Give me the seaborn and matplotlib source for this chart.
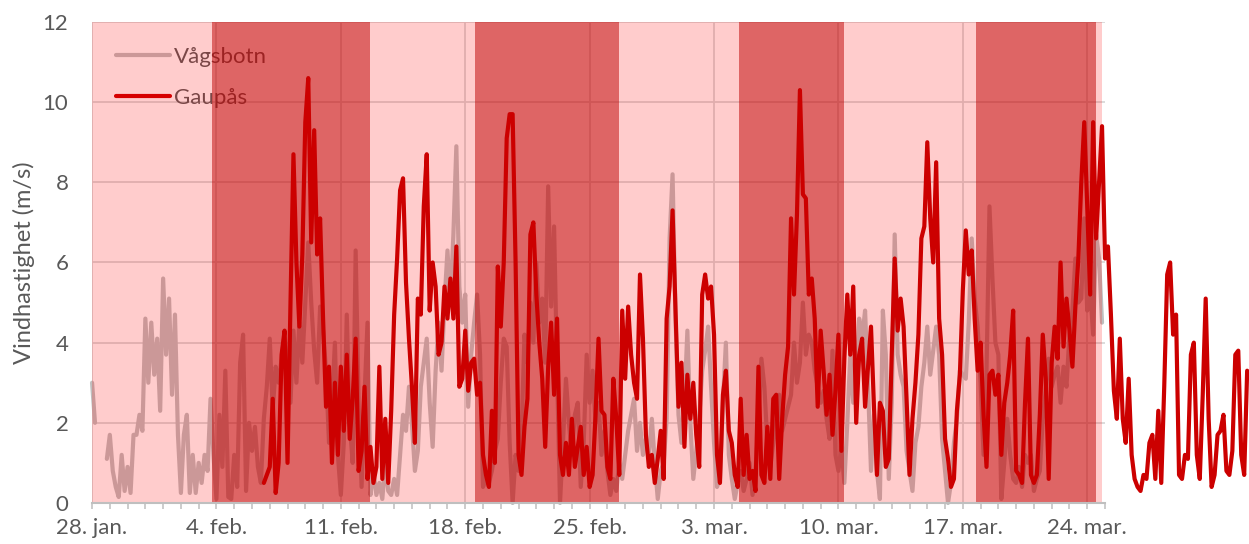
import numpy as np
import pandas as pd
import seaborn as sns
import matplotlib.pyplot as plt
from matplotlib.lines import Line2D

# hourly-ish wind series (4 h steps)
step = "4h"
vagsbotn_start = "2024-01-28 00:00"
gaupas_start = "2024-02-06 16:00"

vagsbotn_ms = [
    3.0, 2.0, np.nan, np.nan, np.nan, 1.1, 1.7, 0.8, 0.4, 0.15, 1.2, 0.3, 0.9, 0.25, 1.7, 1.7, 2.2, 1.8, 4.6, 3.0,
    4.5, 3.2, 4.1, 2.3, 5.6, 3.7, 5.1, 2.7, 4.7, 1.7, 0.25, 1.7, 2.2, 0.25, 1.2, 0.25, 1.0, 0.5, 1.2, 0.8,
    2.6, 1.2, 0.1, 2.2, 0.9, 3.3, 0.15, 0.1, 1.2, 0.4, 3.5, 4.2, 0.3, 2.0, 1.3, 1.9, 0.9, 0.5, 2.1, 2.9,
    4.1, 2.3, 3.4, 3.0, 3.6, 4.2,
    3.4, 2.5, 4.3, 3.0, 4.5, 3.5, 5.0, 6.5, 5.0, 3.8, 3.0, 4.9, 4.3, 3.3, 1.5, 2.5, 4.0, 1.2, 0.2, 1.5,
    4.7, 2.0, 1.0, 6.3, 2.5, 0.4, 2.7, 4.5, 0.2, 0.8, 0.2, 0.5, 0.1, 1.0, 0.3, 0.2, 0.6, 0.2, 1.2, 2.2,
    1.8, 2.9, 2.0, 0.8, 1.3, 2.9, 3.5, 4.1, 2.5, 1.4, 3.3, 4.5, 3.3, 5.0, 6.3, 5.0, 6.7, 8.9, 5.4, 4.5,
    5.2, 2.4, 3.7, 4.5, 5.2, 3.7,
    0.4, 0.6, 0.5, 0.8, 1.3, 1.6, 3.0, 4.1, 3.9, 1.5, 0.0, 1.2, 0.8, 1.7, 4.2, 3.5, 5.0, 4.0, 6.0, 4.5,
    5.1, 3.5, 7.9, 4.9, 6.9, 3.3, 0.0, 1.5, 3.1, 2.0, 1.2, 2.2, 2.5, 0.4, 1.5, 3.7, 2.5, 3.3, 2.0, 2.5,
    1.2, 1.8, 0.8, 0.2, 0.6, 0.3, 1.0, 0.6, 1.2, 1.8, 2.2, 2.6, 1.3, 2.0, 1.2, 1.6, 1.2, 2.1, 1.0, 0.1,
    0.8, 1.0, 2.1, 6.6, 8.2, 4.6,
    2.2, 1.5, 2.5, 4.3, 2.0, 0.6, 1.3, 2.1, 3.3, 3.8, 4.4, 2.9, 1.5, 0.4, 0.6, 2.5, 4.0, 1.2, 0.6, 0.1,
    0.5, 0.8, 0.3, 0.6, 1.0, 0.2, 0.8, 2.0, 3.6, 2.9, 1.5, 0.9, 1.5, 2.0, 2.7, 1.8, 2.1, 2.4, 2.7, 4.0,
    3.0, 3.5, 5.0, 3.7, 4.2, 4.0, 3.3, 2.9, 2.5, 2.8, 2.1, 1.6, 3.8, 1.2, 0.8, 1.4, 0.5, 2.0, 3.7, 2.5,
    3.0, 4.6, 4.1, 4.8, 2.9, 0.8,
    2.2, 0.8, 0.1, 4.8, 3.7, 0.6, 2.5, 6.7, 3.7, 3.2, 2.9, 1.3, 0.8, 0.3, 1.5, 1.9, 2.9, 3.5, 4.4, 3.2,
    3.8, 4.4, 3.7, 1.6, 0.8, 0.0, 0.5, 1.5, 2.1, 3.3, 3.2, 3.1, 4.5, 6.6, 5.1, 4.4, 3.0, 1.2, 3.3, 7.4,
    5.6, 4.0, 3.7, 0.1, 1.0, 2.1, 1.2, 0.6, 0.5, 0.9, 0.4, 1.2, 1.0, 1.2, 0.3, 0.6, 0.8, 2.1, 2.8, 3.6,
    2.9, 3.2, 3.4, 2.5,
    3.4, 2.9, 4.2, 4.8, 6.1, 5.0, 5.1, 7.1, 4.8, 5.3, 4.2, 6.7, 6.1, 4.5,
]

gaupas_ms = [
    0.5, 0.7, 0.9, 2.6, 0.25, 1.0, 3.7, 4.3,
    1.0, 5.0, 8.7, 6.0, 4.4, 6.2, 9.5, 10.6, 6.5, 9.3, 6.2, 7.1, 4.6, 2.4, 3.4, 1.0, 3.0, 1.2, 3.4, 1.8,
    3.7, 1.6, 2.6, 4.1, 0.8, 1.3, 2.9, 0.6, 1.4, 0.5, 0.9, 3.4, 0.6, 2.1, 0.5, 2.3, 4.7, 6.1, 7.8, 8.1,
    5.5, 4.1, 2.9, 1.5, 5.1, 4.7, 7.4, 8.7, 4.8, 6.0, 5.4, 3.7, 4.0, 5.4, 4.6, 5.6, 4.6, 6.4, 2.9, 3.1,
    4.3, 2.8, 3.5, 3.6, 2.7,
    3.0, 1.2, 0.7, 0.4, 2.3, 1.0, 5.9, 4.4, 6.0, 9.1, 9.7, 9.7, 6.0, 1.2, 0.7, 1.9, 2.6, 6.7, 7.0, 5.2,
    4.0, 3.1, 1.4, 3.4, 4.5, 2.7, 4.6, 1.2, 0.7, 1.5, 0.7, 2.1, 0.9, 1.4, 1.9, 0.7, 1.4, 0.4, 0.7, 2.2,
    4.1, 2.3, 2.2, 0.9, 0.6, 3.1, 2.1, 0.7, 4.8, 3.1, 4.9, 3.7, 3.0, 2.6, 5.7, 4.1, 1.7, 0.9, 1.2, 0.5,
    1.1, 1.8, 0.6, 4.6, 5.4, 7.3,
    4.8, 2.4, 3.5, 1.4, 3.2, 2.1, 3.0, 1.7, 0.9, 5.2, 5.7, 5.1, 5.4, 4.2, 1.2, 0.5, 2.7, 3.3, 1.8, 1.5,
    0.7, 0.4, 2.6, 0.7, 1.7, 0.6, 0.8, 0.3, 3.4, 0.7, 0.5, 1.9, 0.6, 2.6, 2.7, 0.6, 2.1, 3.2, 3.9, 7.1,
    5.2, 7.2, 10.3, 7.7, 7.6, 5.2, 5.6, 4.6, 2.4, 4.3, 3.3, 2.2, 3.2, 1.7, 2.8, 4.2, 1.3, 3.6, 5.2, 3.7,
    5.4, 2.0, 3.7, 4.1, 2.4, 3.4,
    4.4, 2.4, 0.7, 2.5, 2.3, 0.9, 1.1, 3.7, 6.1, 4.3, 5.1, 4.4, 2.6, 0.7, 2.1, 3.0, 4.2, 6.6, 6.9, 9.0,
    7.1, 6.0, 8.5, 4.6, 3.7, 1.6, 1.1, 0.4, 0.6, 2.3, 3.2, 5.3, 6.8, 5.7, 6.3, 4.6, 3.3, 4.0, 2.2, 0.9,
    3.2, 3.3, 2.7, 3.2, 1.2, 2.5, 3.0, 3.7, 4.8, 0.8, 0.7, 0.5, 2.5, 4.1, 0.7, 0.5, 0.7, 2.2, 4.2, 3.1,
    0.6, 3.5, 4.4, 3.6,
    6.0, 3.9, 5.1, 4.3, 3.4, 4.9, 6.1, 8.0, 9.5, 7.4, 5.2, 9.5, 6.6, 8.0, 9.4, 6.1, 6.4, 4.7, 2.8, 2.1,
    4.1, 2.1, 1.5, 3.1, 1.2, 0.6, 0.4, 0.3, 0.7, 0.6, 1.5, 1.7, 0.6, 2.3, 0.5, 2.9, 5.7, 6.0, 4.2, 4.7,
    0.7, 0.6, 1.2, 1.1, 3.7, 4.0, 1.2, 0.6, 2.7, 5.1, 2.1, 0.4, 0.7, 1.7, 1.8, 2.2, 0.8, 0.7, 1.3, 3.7,
    3.8, 1.2, 0.7, 3.3,
]

# x axis
x_start = "2024-01-28"
x_end = "2024-03-25"
week_ticks = ["2024-01-28", "2024-02-04", "2024-02-11", "2024-02-18", "2024-02-25",
              "2024-03-03", "2024-03-10", "2024-03-17", "2024-03-24"]
tick_labels = ["28. jan.", "4. feb.", "11. feb.", "18. feb.", "25. feb.",
               "3. mar.", "10. mar.", "17. mar.", "24. mar."]

# shaded periods
period_start = "2024-01-28 00:00"
period_end = "2024-03-24 19:30"
dark_starts = ["2024-02-03 18:00", "2024-02-18 13:40", "2024-03-04 09:20", "2024-03-17 17:15"]
dark_ends = ["2024-02-12 15:30", "2024-02-26 16:00", "2024-03-10 08:10", "2024-03-24 11:15"]

vag = pd.DataFrame({
    "tid": pd.date_range(vagsbotn_start, periods=len(vagsbotn_ms), freq=step),
    "ms": vagsbotn_ms,
})
vag["del"] = vag["ms"].isna().cumsum()
vag = vag.dropna()

gau = pd.DataFrame({
    "tid": pd.date_range(gaupas_start, periods=len(gaupas_ms), freq=step),
    "ms": gaupas_ms,
})

sns.set_theme(style="white")
plt.rcParams["font.family"] = ["Lato", "DejaVu Sans"]

grey_txt = "#595959"
fig = plt.figure(figsize=(12.49, 5.44), dpi=100)
ax = fig.add_axes([0.0737, 0.0754, 0.8110, 0.8842])

sns.lineplot(data=vag, x="tid", y="ms", units="del", estimator=None, color="#BFBFBF",
             linewidth=3.0, zorder=1, legend=False, ax=ax)
sns.lineplot(data=gau, x="tid", y="ms", color="#CC0000", linewidth=3.0, zorder=4,
             legend=False, ax=ax)
for line in ax.lines:
    line.set_clip_on(False)

ax.axvspan(pd.Timestamp(period_start), pd.Timestamp(period_end), color="#FF0000",
           alpha=0.2, lw=0, zorder=2)
for s, e in zip(dark_starts, dark_ends):
    ax.axvspan(pd.Timestamp(s), pd.Timestamp(e), color="#BF0000", alpha=0.5, lw=0, zorder=3)

ax.set_xlim(pd.Timestamp(x_start), pd.Timestamp(x_end))
ax.set_ylim(0, 12)
ax.set_yticks(range(0, 13, 2))
ax.set_xticks(pd.to_datetime(week_ticks))
ax.set_xticklabels(tick_labels)
ax.set_xticks(pd.date_range(x_start, x_end, freq="D"), minor=True)

ax.set_axisbelow(True)
ax.grid(True, which="major", color="#D9D9D9", linewidth=1.3)
ax.grid(False, which="minor")

for side in ["top", "right", "left"]:
    ax.spines[side].set_visible(False)
ax.spines["bottom"].set_color("#BFBFBF")
ax.spines["bottom"].set_linewidth(1.5)
ax.spines["bottom"].set_zorder(5)

ax.tick_params(axis="x", which="both", direction="out", length=4.5, width=1.1,
               color="#BFBFBF", bottom=True)
ax.tick_params(axis="x", which="major", labelsize=16, labelcolor=grey_txt, pad=6)
ax.tick_params(axis="y", length=0, labelsize=16, labelcolor=grey_txt, pad=17)

ax.set_xlabel("")
ax.set_ylabel("Vindhastighet (m/s)", fontsize=17, color=grey_txt)
ax.yaxis.set_label_coords(-0.056, 0.5)

handles = [Line2D([], [], color="#BFBFBF", lw=3.0), Line2D([], [], color="#CC0000", lw=3.0)]
leg = ax.legend(handles, ["Vågsbotn", "Gaupås"], loc="upper left", bbox_to_anchor=(0.024, 0.948),
                frameon=False, fontsize=16, handlelength=2.4, handletextpad=0.2,
                labelspacing=0.95, borderpad=0, borderaxespad=0)
for t in leg.get_texts():
    t.set_color(grey_txt)
leg.set_zorder(1.5)

fig.savefig("out.png", dpi=100)
